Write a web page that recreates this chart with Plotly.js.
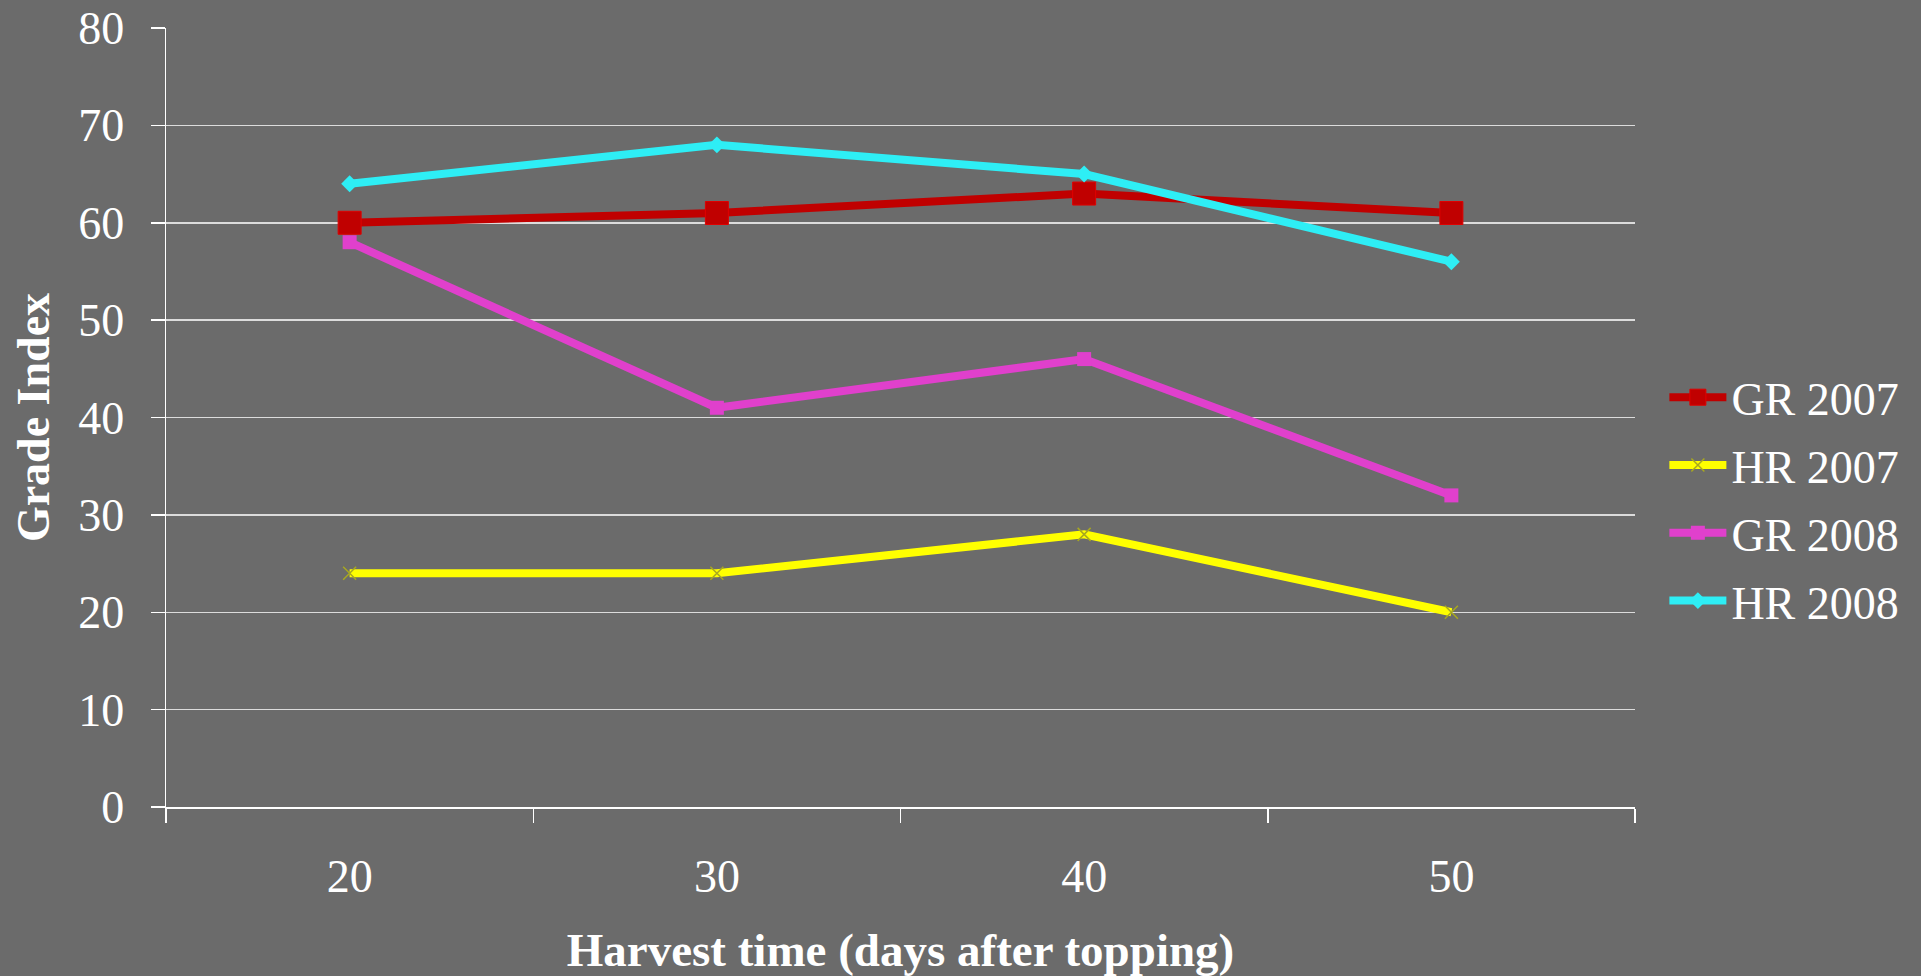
<!DOCTYPE html>
<html>
<head>
<meta charset="utf-8">
<script src="https://cdn.plot.ly/plotly-3.0.1.min.js"></script>
<style>html,body{margin:0;padding:0;background:#6b6b6b;}</style>
</head>
<body>
<div id="chart" style="width:1921px;height:976px;"></div>
<script>
const categories = ['20', '30', '40', '50'];
const gr2007 = [60, 61, 63, 61];
const hr2007 = [24, 24, 28, 20];
const gr2008 = [58, 41, 46, 32];
const hr2008 = [64, 68, 65, 56];
const yTicks = [0, 10, 20, 30, 40, 50, 60, 70, 80];

const font = 'Liberation Serif, Times New Roman, serif';

const traces = [
  {x: categories, y: gr2007, name: 'GR 2007', legendgroup: 'a', type: 'scatter', mode: 'lines+markers',
   line: {color: '#C00000', width: 8},
   marker: {symbol: 'square', size: 23, color: '#C00000', line: {color: '#E00000', width: 1}}},
  {x: categories, y: hr2007, name: 'HR 2007', legendgroup: 'b', type: 'scatter', mode: 'lines+markers',
   line: {color: '#FFFF00', width: 8},
   marker: {symbol: 'x-thin-open', size: 13, color: '#A8A820', line: {color: '#A8A820', width: 1.5}}},
  {x: categories, y: gr2008, name: 'GR 2008', legendgroup: 'c', type: 'scatter', mode: 'lines+markers',
   line: {color: '#E040CC', width: 8},
   marker: {symbol: 'square', size: 14, color: '#E040CC'}},
  {x: categories, y: hr2008, name: 'HR 2008', legendgroup: 'd', type: 'scatter', mode: 'lines+markers',
   line: {color: '#2EEEF5', width: 8},
   marker: {symbol: 'diamond', size: 13, color: '#2EEEF5'}}
];

const layout = {
  width: 1921, height: 976,
  paper_bgcolor: '#6b6b6b', plot_bgcolor: '#6b6b6b',
  margin: {l: 166, r: 286, t: 28, b: 169, autoexpand: false},
  font: {family: font, color: '#ffffff', size: 46},
  showlegend: true,
  legend: {x: 1.02, xanchor: 'left', y: 0.395, yanchor: 'middle', bgcolor: 'rgba(0,0,0,0)',
           font: {family: font, size: 46, color: '#ffffff'}, itemwidth: 57, tracegroupgap: 5},
  xaxis: {
    type: 'category', range: [-0.5, 3.5], tickson: 'boundaries', ticks: 'outside', ticklen: 14, tickwidth: 1.5,
    tickcolor: '#ffffff', showline: true, linecolor: '#ffffff', linewidth: 1.5,
    showgrid: false, zeroline: false, automargin: false, ticklabelstandoff: 28,
    tickfont: {family: font, size: 46, color: '#ffffff'},
    title: {text: '<b>Harvest time (days after topping)</b>', font: {family: font, size: 47, color: '#ffffff'}, standoff: 34}
  },
  yaxis: {
    range: [0, 80], tickvals: yTicks, ticktext: yTicks.map(String), ticks: 'outside', ticklen: 14, tickwidth: 1.5,
    tickcolor: '#ffffff', showline: true, linecolor: '#ffffff', linewidth: 1.5,
    showgrid: true, gridcolor: '#dcdcdc', gridwidth: 1.5, zeroline: false, automargin: false,
    ticklabelstandoff: 17,
    tickfont: {family: font, size: 46, color: '#ffffff'},
    title: {text: '<b>Grade Index</b>', font: {family: font, size: 46, color: '#ffffff'}, standoff: 14}
  }
};

Plotly.newPlot('chart', traces, layout, {displayModeBar: false, staticPlot: true});
</script>
</body>
</html>
